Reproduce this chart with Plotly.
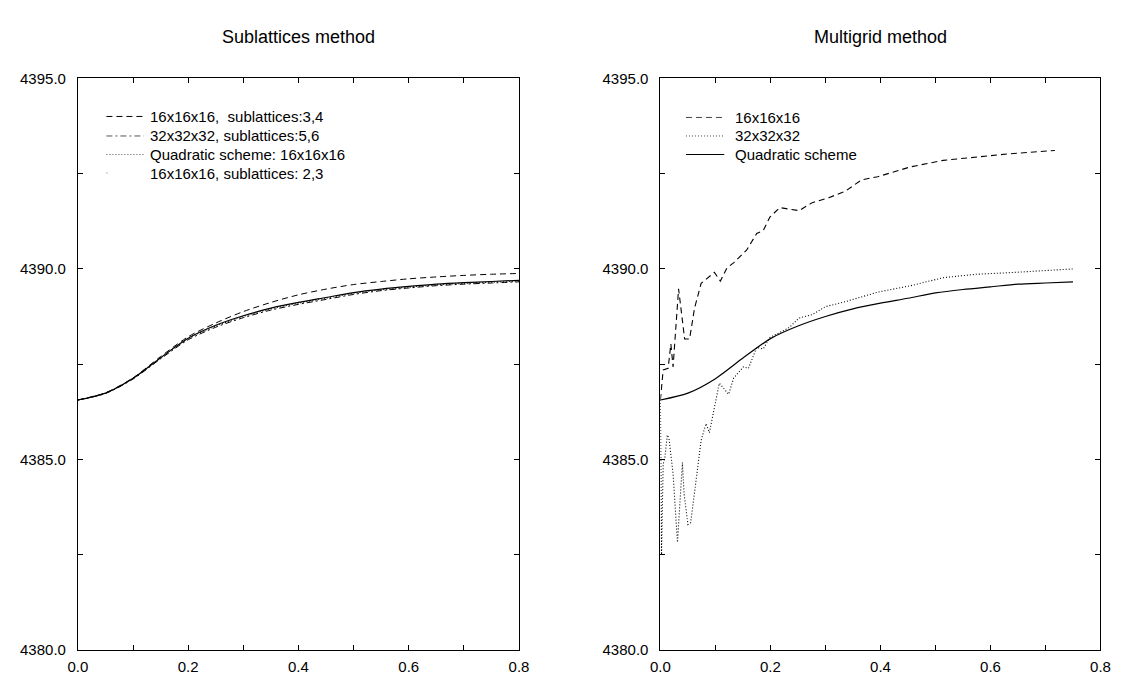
import plotly.graph_objects as go

# ---------------- data ----------------
x_grid = [0.00, 0.05, 0.10, 0.15, 0.20, 0.25, 0.30, 0.35, 0.40, 0.45,
          0.50, 0.55, 0.60, 0.65, 0.70, 0.75, 0.80]

# Left panel: Sublattices method
sub_16_34 = [4386.56, 4386.75, 4387.14, 4387.70, 4388.22, 4388.58, 4388.88, 4389.12, 4389.32,
             4389.47, 4389.59, 4389.67, 4389.74, 4389.79, 4389.83, 4389.86, 4389.88]
sub_32_56 = [4386.56, 4386.73, 4387.11, 4387.64, 4388.14, 4388.47, 4388.72, 4388.92, 4389.07,
             4389.20, 4389.33, 4389.43, 4389.50, 4389.56, 4389.60, 4389.63, 4389.66]
sub_quad16 = [4386.56, 4386.74, 4387.12, 4387.66, 4388.17, 4388.50, 4388.75, 4388.95, 4389.10,
              4389.23, 4389.36, 4389.45, 4389.52, 4389.58, 4389.62, 4389.65, 4389.68]
sub_16_23 = [4386.56, 4386.74, 4387.13, 4387.67, 4388.18, 4388.52, 4388.77, 4388.97, 4389.12,
             4389.25, 4389.38, 4389.47, 4389.54, 4389.60, 4389.64, 4389.67, 4389.70]
left_names = ["16x16x16,  sublattices:3,4", "32x32x32, sublattices:5,6",
              "Quadratic scheme: 16x16x16", "16x16x16, sublattices: 2,3"]

# Right panel: Multigrid method
mg_quad_x = [0.00, 0.05, 0.10, 0.15, 0.20, 0.25, 0.30, 0.35, 0.40, 0.45,
             0.50, 0.55, 0.60, 0.65, 0.70, 0.75]
mg_quad_y = [4386.56, 4386.74, 4387.12, 4387.66, 4388.17, 4388.50, 4388.75, 4388.95, 4389.10,
             4389.23, 4389.37, 4389.46, 4389.53, 4389.60, 4389.63, 4389.66]

mg16_x = [0.000, 0.005, 0.014, 0.019, 0.023, 0.033, 0.038, 0.044, 0.053, 0.062, 0.074,
          0.092, 0.098, 0.109, 0.121, 0.133, 0.157, 0.175, 0.187, 0.199, 0.217, 0.234,
          0.252, 0.276, 0.306, 0.336, 0.366, 0.395, 0.455, 0.514, 0.574, 0.633, 0.717]
mg16_y = [4386.56, 4387.35, 4387.39, 4388.03, 4387.43, 4389.48, 4388.88, 4388.16, 4388.16,
          4388.97, 4389.62, 4389.82, 4389.91, 4389.68, 4390.03, 4390.16, 4390.50, 4390.93,
          4391.01, 4391.36, 4391.61, 4391.57, 4391.53, 4391.74, 4391.87, 4392.04, 4392.34,
          4392.42, 4392.68, 4392.85, 4392.93, 4393.02, 4393.11]

mg32_x = [0.000, 0.002, 0.005, 0.008, 0.0125, 0.0155, 0.023, 0.031, 0.035, 0.040, 0.043,
          0.050, 0.055, 0.067, 0.074, 0.083, 0.089, 0.107, 0.124, 0.133, 0.151, 0.160,
          0.175, 0.187, 0.199, 0.217, 0.234, 0.252, 0.276, 0.300, 0.336, 0.395, 0.455,
          0.514, 0.574, 0.633, 0.723, 0.750]
mg32_y = [4386.56, 4382.50, 4384.87, 4385.04, 4385.64, 4385.56, 4384.62, 4382.82, 4383.76,
          4384.92, 4384.10, 4383.29, 4383.34, 4384.70, 4385.50, 4385.94, 4385.70, 4387.00,
          4386.71, 4387.13, 4387.43, 4387.39, 4387.94, 4387.90, 4388.20, 4388.33, 4388.46,
          4388.71, 4388.80, 4389.01, 4389.14, 4389.39, 4389.56, 4389.77, 4389.86, 4389.90,
          4389.99, 4390.00]
right_names = ["16x16x16", "32x32x32", "Quadratic scheme"]

x_ticks = [0.0, 0.2, 0.4, 0.6, 0.8]
x_tick_text = ["0.0", "0.2", "0.4", "0.6", "0.8"]
y_ticks = [4380, 4385, 4390, 4395]
y_tick_text = ["4380.0", "4385.0", "4390.0", "4395.0"]

# ---------------- figure ----------------
W, H = 1130, 685
OFF = 8  # page body margin
FONT = "Liberation Sans, Arial, Helvetica, sans-serif"


def px(x):
    return (x - OFF) / W


def py(y):
    return 1 - (y - OFF) / H


DASH = "6px,4px"
DOT = "1px,2px"
DASHDOT = "6px,3px,2px,3px"
SPARSE = "1px,60px"

fig = go.Figure()


def sline(dash, width=1.0, color="black"):
    return dict(color=color, width=width, dash=dash, shape="spline", smoothing=0.8)

left_series = [sub_16_34, sub_32_56, sub_quad16, sub_16_23]
left_dash = [DASH, DASHDOT, DOT, "solid"]
for ys, d, n in zip(left_series, left_dash, left_names):
    fig.add_trace(go.Scatter(x=x_grid, y=ys, mode="lines",
                             line=sline(d, 1.2 if d == "solid" else 1.0),
                             name=n, showlegend=False, xaxis="x", yaxis="y"))

fig.add_trace(go.Scatter(x=mg16_x, y=mg16_y, mode="lines",
                         line=dict(color="black", width=1.1, dash=DASH),
                         name=right_names[0], showlegend=False, xaxis="x2", yaxis="y2"))
fig.add_trace(go.Scatter(x=mg32_x, y=mg32_y, mode="lines",
                         line=dict(color="black", width=1.1, dash=DOT),
                         name=right_names[1], showlegend=False, xaxis="x2", yaxis="y2"))
fig.add_trace(go.Scatter(x=mg_quad_x, y=mg_quad_y, mode="lines", line=sline("solid", 1.2),
                         name=right_names[2], showlegend=False, xaxis="x2", yaxis="y2"))

ydom = [py(657), py(71)]
left_dom = [px(69), px(518)]
right_dom = [px(662), px(1110)]

TICKF = dict(size=15, color="black", family=FONT)
xax = dict(range=[0, 0.8], tickvals=x_ticks, ticktext=x_tick_text, ticks="inside",
           ticklen=5, tickcolor="black", showline=True, linecolor="black", linewidth=1,
           mirror="ticks", showgrid=False, zeroline=False, fixedrange=True,
           tickfont=TICKF, ticklabelstandoff=3,
           minor=dict(dtick=0.1, tick0=0, ticks="inside", ticklen=5, tickcolor="black",
                      showgrid=False))
yax = dict(range=[4380, 4395], tickvals=y_ticks, ticktext=y_tick_text, ticks="inside",
           ticklen=5, tickcolor="black", showline=True, linecolor="black", linewidth=1,
           mirror="ticks", showgrid=False, zeroline=False, fixedrange=True,
           tickfont=TICKF, ticklabelstandoff=8,
           minor=dict(dtick=2.5, tick0=4380, ticks="inside", ticklen=5, tickcolor="black",
                      showgrid=False))

# hand-drawn legends (sample line + label)
shapes, annots = [], []
LEGF = dict(size=15, family=FONT, color="black")
left_rows = [110, 130, 149, 168]
left_leg_dash = [DASH, DASHDOT, DOT, SPARSE]
left_leg_col = ["black", "#555555", "#555555", "#777777"]
for yrow, d, c, n in zip(left_rows, left_leg_dash, left_leg_col, left_names):
    shapes.append(dict(type="line", xref="paper", yref="paper", x0=px(98), x1=px(136),
                       y0=py(yrow), y1=py(yrow), line=dict(color=c, width=1, dash=d)))
    annots.append(dict(text=n, x=px(140), y=py(yrow), xref="paper", yref="paper",
                       xanchor="left", yanchor="middle", showarrow=False, font=LEGF))
right_rows = [111, 130, 149]
right_leg_dash = [DASH, DOT, "solid"]
right_leg_col = ["#444444", "#444444", "black"]
for yrow, d, c, n in zip(right_rows, right_leg_dash, right_leg_col, right_names):
    shapes.append(dict(type="line", xref="paper", yref="paper", x0=px(688), x1=px(727),
                       y0=py(yrow), y1=py(yrow), line=dict(color=c, width=1, dash=d)))
    annots.append(dict(text=n, x=px(736), y=py(yrow), xref="paper", yref="paper",
                       xanchor="left", yanchor="middle", showarrow=False, font=LEGF))

TITLEF = dict(size=18, family=FONT, color="black")
annots.append(dict(text="Sublattices method", x=(left_dom[0] + left_dom[1]) / 2, y=py(29),
                   xref="paper", yref="paper", xanchor="center", yanchor="middle",
                   showarrow=False, font=TITLEF))
annots.append(dict(text="Multigrid method", x=(right_dom[0] + right_dom[1]) / 2, y=py(29),
                   xref="paper", yref="paper", xanchor="center", yanchor="middle",
                   showarrow=False, font=TITLEF))

fig.update_layout(
    width=W, height=H,
    margin=dict(l=0, r=0, t=0, b=0),
    paper_bgcolor="white", plot_bgcolor="white",
    font=dict(family=FONT, color="black", size=15),
    showlegend=False,
    xaxis=dict(domain=left_dom, anchor="y", **xax),
    yaxis=dict(domain=ydom, anchor="x", **yax),
    xaxis2=dict(domain=right_dom, anchor="y2", **xax),
    yaxis2=dict(domain=ydom, anchor="x2", **yax),
    shapes=shapes,
    annotations=annots,
)

fig.write_html("out.html")
